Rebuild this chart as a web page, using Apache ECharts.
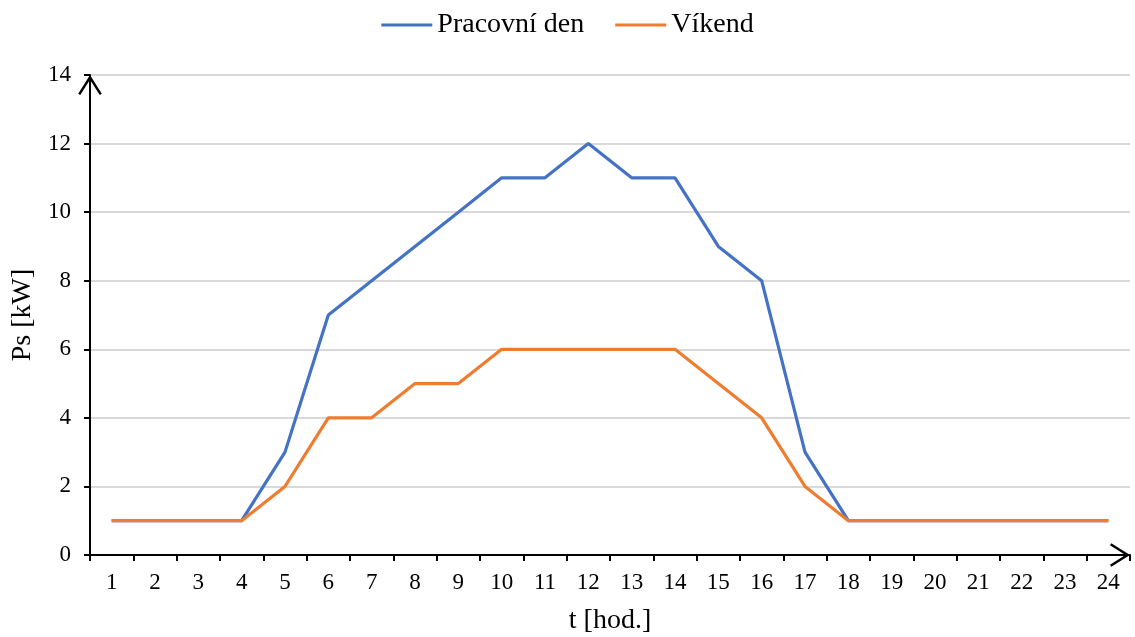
<!DOCTYPE html>
<html>
<head>
<meta charset="utf-8">
<script src="https://cdn.jsdelivr.net/npm/echarts@6/dist/echarts.min.js"></script>
<style>
  html, body { margin: 0; padding: 0; background: #fff; }
  #chart { width: 1135px; height: 637px; }
</style>
</head>
<body>
<div id="chart"></div>
<script>
var hours = ['1', '2', '3', '4', '5', '6', '7', '8', '9', '10', '11', '12',
             '13', '14', '15', '16', '17', '18', '19', '20', '21', '22', '23', '24'];
var pracovniDen = [1, 1, 1, 1, 3, 7, 8, 9, 10, 11, 11, 12, 11, 11, 9, 8, 3, 1, 1, 1, 1, 1, 1, 1];
var vikend = [1, 1, 1, 1, 2, 4, 4, 5, 5, 6, 6, 6, 6, 6, 5, 4, 2, 1, 1, 1, 1, 1, 1, 1];
var yTicks = [0, 2, 4, 6, 8, 10, 12, 14];

// otevrena sipka (chevron) na konci os
var arrowPath = 'path://M0,19 L12,0 L24,19 L21.9,20.3 L12,4.7 L2.1,20.3 Z';
var font = '"Liberation Serif", "DejaVu Serif", serif';

var myChart = echarts.init(document.getElementById('chart'));
var option = {
    color: ['#4472C4', '#ED7D31'],
    textStyle: { fontFamily: font, color: '#000' },
    legend: {
        top: 6,
        left: 'center',
        itemWidth: 51,
        itemHeight: 3,
        itemGap: 31,
        icon: 'rect',
        textStyle: { fontFamily: font, fontSize: 28, color: '#000' },
        data: ['Pracovní den', 'Víkend']
    },
    grid: { left: 90, right: 5, top: 75, bottom: 82, outerBoundsMode: 'none', containLabel: false },
    xAxis: {
        type: 'category',
        data: hours,
        boundaryGap: true,
        name: 't [hod.]',
        nameLocation: 'middle',
        nameGap: 52,
        nameTextStyle: { fontFamily: font, fontSize: 28, color: '#000' },
        axisLine: {
            lineStyle: { color: '#000', width: 2 },
            symbol: ['none', arrowPath],
            symbolSize: [24, 20],
            symbolOffset: [0, -10]
        },
        axisTick: { show: true, length: 6, lineStyle: { color: '#000', width: 2 } },
        axisLabel: { fontFamily: font, fontSize: 23, color: '#000', margin: 16 },
        splitLine: { show: false }
    },
    yAxis: {
        type: 'value',
        min: yTicks[0],
        max: yTicks[yTicks.length - 1],
        interval: 2,
        name: 'Ps [kW]',
        nameLocation: 'middle',
        nameGap: 47,
        nameTextStyle: { fontFamily: font, fontSize: 28, color: '#000' },
        axisLine: {
            show: true,
            lineStyle: { color: '#000', width: 2 },
            symbol: ['none', arrowPath],
            symbolSize: [24, 20],
            symbolOffset: [0, -10]
        },
        axisTick: { show: true, length: 6, lineStyle: { color: '#000', width: 2 } },
        axisLabel: { fontFamily: font, fontSize: 23, color: '#000', margin: 19 },
        splitLine: { show: true, lineStyle: { color: '#d9d9d9', width: 2 } }
    },
    series: [
        {
            name: 'Pracovní den',
            type: 'line',
            data: pracovniDen,
            showSymbol: false,
            lineStyle: { width: 3.2 },
            animation: false
        },
        {
            name: 'Víkend',
            type: 'line',
            data: vikend,
            showSymbol: false,
            lineStyle: { width: 3.2 },
            animation: false
        }
    ]
};
myChart.setOption(option);
</script>
</body>
</html>
